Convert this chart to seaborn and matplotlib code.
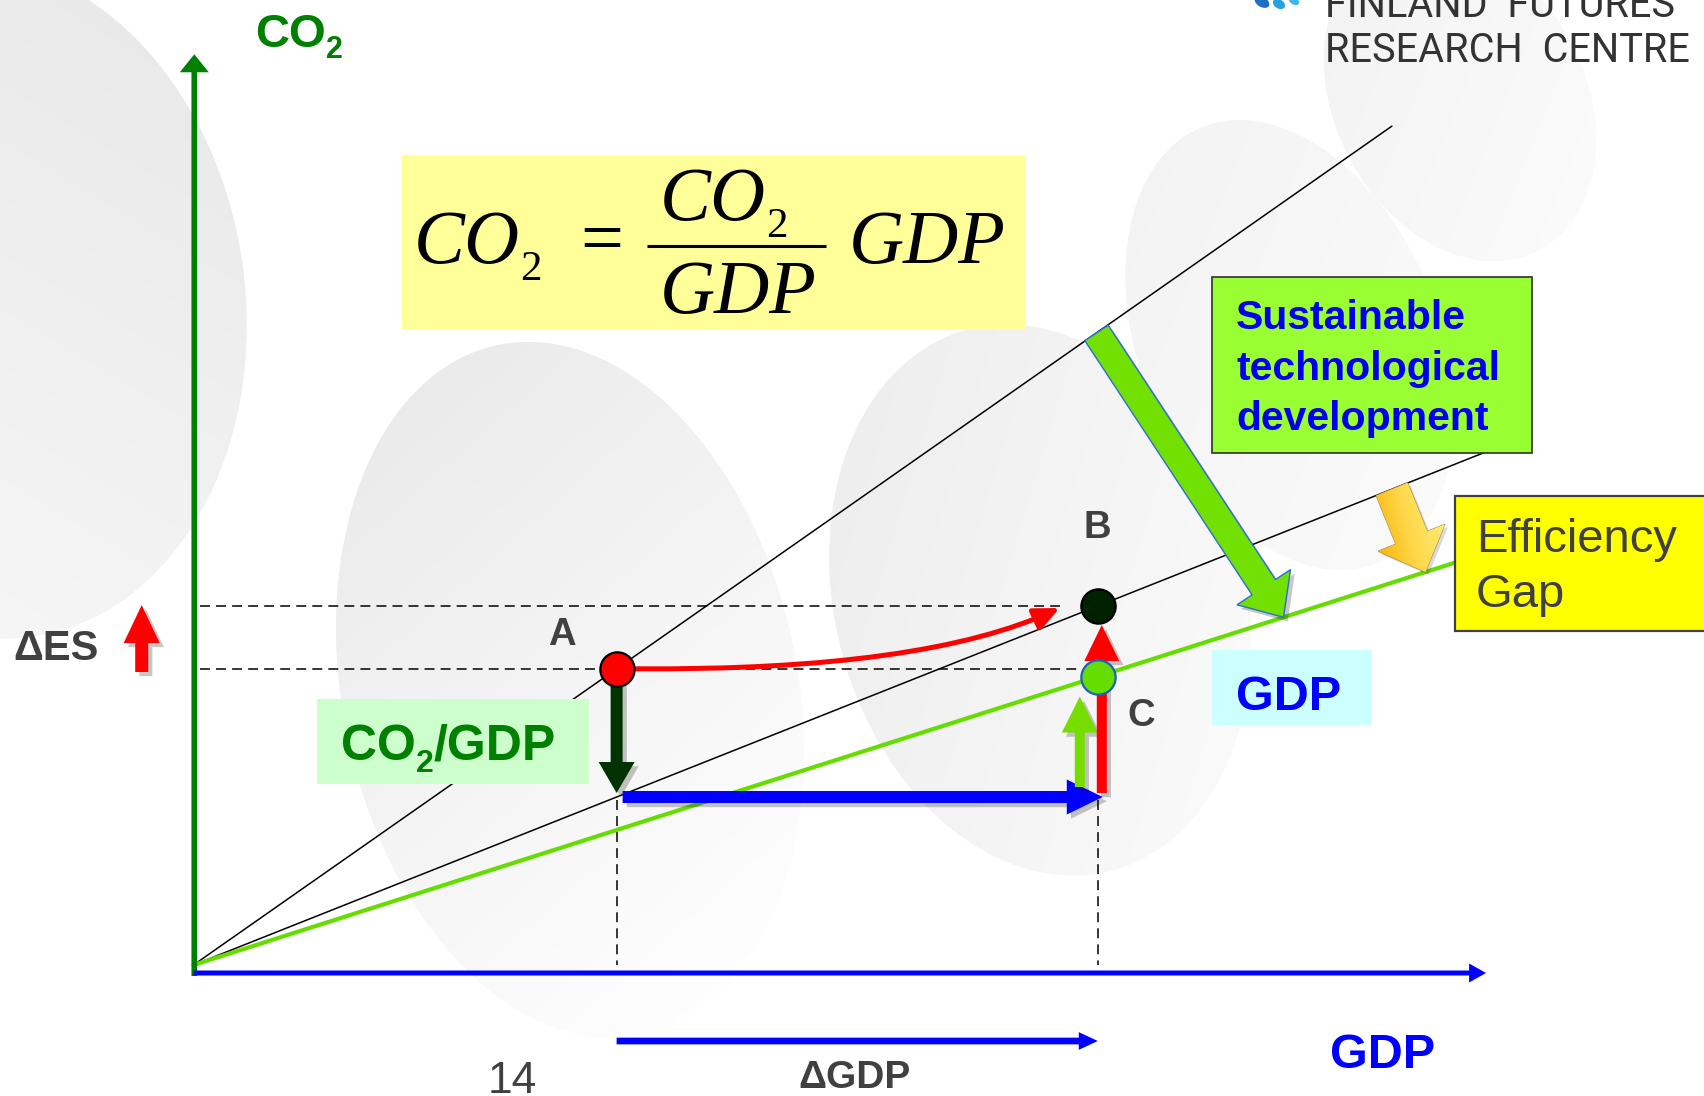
import numpy as np
import matplotlib
matplotlib.use("Agg")
import matplotlib.pyplot as plt
import seaborn as sns
from matplotlib.patches import Ellipse, Rectangle, FancyArrow, FancyArrowPatch
from matplotlib.path import Path
from matplotlib.colors import LinearSegmentedColormap
import matplotlib.patheffects as pe

# ---------------------------------------------------------------------------
# Model values: CO2 = (CO2/GDP) * GDP
# ---------------------------------------------------------------------------
point_names = ["A", "B", "C"]
point_gdp = [32.8, 70.1, 70.1]
point_co2 = [22.96, 27.83, 22.36]
point_fill = ["#ff0000", "#002200", "#66dd00"]
point_edge = ["#000000", "#000000", "#1f5fbf"]

# emission intensities (slopes of the rays from the origin)
ray_intensity = [0.70, 0.397, 0.319]
ray_end_gdp = [92.9, 100.0, 97.9]
ray_colors = ["#000000", "#000000", "#66dd00"]
ray_widths = [1.1, 1.1, 3.0]

# GDP span of the two slanted block arrows
tech_arrow_gdp = [70.0, 84.5]     # from the high ray down to the efficient ray
gap_arrow_gdp = [92.9, 95.5]      # from the middle ray down to the efficient ray

axis_top_co2 = 70.6
axis_end_gdp = 100.2

# ---------------------------------------------------------------------------
# Canvas: one axes filling the figure, equal units on both directions
# ---------------------------------------------------------------------------
W, H = 1704, 1096
S = 12.9            # pixels per unit
X0, Y0 = 193.5, 965.0


def dx(px):
    return (px - X0) / S


def dy(py):
    return (Y0 - py) / S


def L(n):
    return n / S


sns.set_style("white")
plt.rcParams["font.family"] = ["Liberation Sans", "DejaVu Sans"]

fig = plt.figure(figsize=(W / 100, H / 100), dpi=100)
ax = fig.add_axes([0, 0, 1, 1])
ax.set_axis_off()
ax.set_xlim(dx(0), dx(W))
ax.set_ylim(dy(H), dy(0))
ax.set_aspect("auto")
ax.set_autoscale_on(False)
R = fig.canvas.get_renderer()

GRAY = "#404040"
GREEN = "#008000"
BLUE = "#0000ff"


# ---------------------------------------------------------------------------
# Soft grey discs in the background
# ---------------------------------------------------------------------------
def soft_disc(cx, cy, w, h, ang, c_dark, c_light, gx, gy):
    e = Ellipse((dx(cx), dy(cy)), L(w), L(h), angle=ang, fc="none", ec="none")
    ax.add_patch(e)
    r = max(w, h) / 2
    u = np.linspace(-1, 1, 300)
    XX, YY = np.meshgrid(u, u)
    Z = (XX * gx + YY * gy) / np.hypot(gx, gy)
    cmap = LinearSegmentedColormap.from_list("disc", [c_dark, c_light])
    im = ax.imshow(Z, extent=[dx(cx - r), dx(cx + r), dy(cy + r), dy(cy - r)],
                   origin="lower", cmap=cmap, vmin=-1, vmax=1,
                   interpolation="bilinear", zorder=0, aspect="auto")
    im.set_clip_path(e)


soft_disc(-15, 300, 520, 680, 8, "#e9e9e9", "#f7f7f7", -0.6, -1.0)
soft_disc(570, 690, 455, 705, 11.8, "#eaeaea", "#ffffff", 0.8, -0.9)
soft_disc(1040, 600, 410, 560, 15, "#ededed", "#fbfbfb", 1.0, -0.3)
soft_disc(1290, 345, 300, 470, 22, "#f3f3f3", "#fbfbfb", 1.0, -0.4)
soft_disc(1460, 100, 250, 340, 28, "#f3f3f3", "#fbfbfb", 1.0, -0.4)

# ---------------------------------------------------------------------------
# Helpers
# ---------------------------------------------------------------------------
shadow = [pe.SimplePatchShadow(offset=(3, -3), shadow_rgbFace="#000000", alpha=0.22),
          pe.Normal()]


def block_arrow(x0, y0, x1, y1, shaft, head_w, head_l, fc, ec=None, lw=0.0,
                z=6, shade=True):
    a = FancyArrow(x0, y0, x1 - x0, y1 - y0, width=L(shaft), head_width=L(head_w),
                   head_length=L(head_l), length_includes_head=True,
                   fc=fc, ec=ec if ec else fc, lw=lw, zorder=z)
    if shade:
        a.set_path_effects(shadow)
    ax.add_patch(a)
    return a


def box(x0, y0, x1, y1, fc, ec="none", lw=0.0, z=4):
    ax.add_patch(Rectangle((dx(x0), dy(y1)), L(x1 - x0), L(y1 - y0),
                           fc=fc, ec=ec, lw=lw, zorder=z))


def chain(x_px, base_px, pieces, z=9, **kw):
    """Write text pieces one after another: (string, size, baseline shift px, extra kw)."""
    x = x_px
    for s, size, shift, extra in pieces:
        opts = dict(kw)
        opts.update(extra)
        t = ax.text(dx(x), dy(base_px + shift), s, fontsize=size, ha="left",
                    va="baseline", zorder=z, **opts)
        bb = t.get_window_extent(renderer=R)
        x = bb.x1
    return x


def centred(cx_px, base_px, s, size, z=9, **kw):
    ax.text(dx(cx_px), dy(base_px), s, fontsize=size, ha="center",
            va="baseline", zorder=z, **kw)


# ---------------------------------------------------------------------------
# Axes arrows
# ---------------------------------------------------------------------------
block_arrow(L(0.8), dy(976), L(0.8), axis_top_co2, 5.7, 29, 18, GREEN, z=5, shade=False)
block_arrow(0.0, dy(973), axis_end_gdp, dy(973), 5.0, 19, 17, BLUE, z=5, shade=False)

# ---------------------------------------------------------------------------
# Rays from the origin
# ---------------------------------------------------------------------------
for k, g, c, w in zip(ray_intensity, ray_end_gdp, ray_colors, ray_widths):
    sns.lineplot(x=[0.0, g], y=[0.0, k * g], ax=ax, color=c, lw=w, zorder=3,
                 legend=False, sort=False)

gA, gB = point_gdp[0], point_gdp[1]
cA, cB, cC = point_co2
y_shift = ray_intensity[1] * gA      # CO2 of A's GDP on the middle ray

# dashed guide lines
dash = dict(color="black", lw=1.1, dashes=(6.5, 4), zorder=3)
ax.plot([dx(200), gB - L(38)], [cB, cB], **dash)
ax.plot([dx(200), gB - L(18)], [cA, cA], **dash)
ax.plot([gA, gA], [y_shift - L(3), 0.0], **dash)
ax.plot([gB, gB], [y_shift - L(3), 0.0], **dash)

# ---------------------------------------------------------------------------
# Boxes
# ---------------------------------------------------------------------------
box(402, 155, 1025, 330, "#ffff99", z=2)
box(317, 699, 589, 784, "#ccffcc", z=4)
box(1212, 650, 1372, 725, "#ccffff", z=4)
box(1212, 277, 1532, 453, "#99ff33", ec="#303030", lw=1.2, z=4)
box(1455, 496, 1710, 631, "#ffff00", ec="#404040", lw=1.6, z=4)

# ---------------------------------------------------------------------------
# Movement arrows
# ---------------------------------------------------------------------------
# CO2/GDP falls: A straight down to the middle ray
block_arrow(gA, cA, gA, y_shift + L(4), 12, 36, 31, "#003300", z=6)
# GDP grows
block_arrow(gA + L(6), y_shift, gB + L(5), y_shift, 12, 35, 36, BLUE, z=6)
# vertical rises at the new GDP
block_arrow(gB - L(18), y_shift + L(10), gB - L(18), cC - L(20), 10, 36, 36,
            "#77dd00", z=6)
block_arrow(gB + L(4), y_shift + L(4), gB + L(4), cB - L(19), 10, 35, 36,
            "#ff0000", z=6)

# red curved path A -> B
p0 = (gA + L(20), cA)
p2 = (gB - L(38), cB - L(2))
p1 = (gA + L(20) + 0.68 * (p2[0] - p0[0]), cA - L(2))
curve = FancyArrowPatch(path=Path([p0, p1, p2], [Path.MOVETO, Path.CURVE3, Path.CURVE3]),
                        arrowstyle="-|>,head_length=1.0,head_width=0.45",
                        mutation_scale=15, color="#ff0000", lw=3.6, zorder=6,
                        shrinkA=0, shrinkB=0)
ax.add_patch(curve)

# technological development arrow: high ray to efficient ray
t0, t1 = tech_arrow_gdp
block_arrow(t0, ray_intensity[0] * t0, t1, ray_intensity[2] * t1, 28, 64, 36,
            "#72e000", ec="#2a6ed8", lw=1.0, z=5)

# efficiency gap arrow with a warm gradient
q0, q1 = gap_arrow_gdp
gap = block_arrow(q0, ray_intensity[1] * q0, q1, ray_intensity[2] * q1, 34, 72, 37,
                  "none", ec="#a08850", lw=0.8, z=5, shade=False)
shadow_gap = FancyArrow(q0 + L(3), ray_intensity[1] * q0 - L(3), q1 - q0,
                        ray_intensity[2] * q1 - ray_intensity[1] * q0,
                        width=L(34), head_width=L(72), head_length=L(37),
                        length_includes_head=True, fc="#000000", ec="none",
                        alpha=0.15, zorder=4.9)
ax.add_patch(shadow_gap)
u = np.linspace(-1, 1, 100)
GX, GY = np.meshgrid(u, u)
gcmap = LinearSegmentedColormap.from_list("gap", ["#f5b000", "#ffd84a", "#fff07a"])
gim = ax.imshow(GX * 0.9 + GY * 0.3, extent=[dx(1370), dx(1450), dy(580), dy(480)],
                origin="lower", cmap=gcmap, vmin=-1, vmax=1, zorder=5.1,
                interpolation="bilinear", aspect="auto")
gim.set_clip_path(gap)

# ΔES marker arrow
block_arrow(dx(141.7), dy(672), dx(141.7), dy(605), 13, 36, 38, "#ff0000", z=6)

# ΔGDP arrow under the axis
block_arrow(gA, dy(1041), gB, dy(1041), 6.7, 17.7, 19, BLUE, z=6, shade=False)

# ---------------------------------------------------------------------------
# Points A, B, C
# ---------------------------------------------------------------------------
for name, g, c, fc, ec in zip(point_names, point_gdp, point_co2, point_fill, point_edge):
    sns.scatterplot(x=[g], y=[c], ax=ax, color=fc, s=610, edgecolor=ec,
                    linewidth=1.6, zorder=8, legend=False)

# ---------------------------------------------------------------------------
# Text
# ---------------------------------------------------------------------------
bold = dict(fontweight="bold")

# axis titles
chain(255, 47, [("CO", 34, 0, {}), ("2", 22, 11, {})], color=GREEN, **bold)
chain(1330, 1068, [("GDP", 35, 0, {})], color=BLUE, **bold)

# point labels
centred(562, 645, "A", 27.5, color=GRAY, **bold)
centred(1097, 538, "B", 27.5, color=GRAY, **bold)
centred(1141, 726, "C", 27.5, color=GRAY, **bold)

chain(13, 660, [("ΔES", 30, 0, {})], color=GRAY, **bold)
chain(798, 1088, [("ΔGDP", 28, 0, {})], color=GRAY, **bold)
chain(488, 1093, [("14", 32, 0, {})], color=GRAY)

# box labels
chain(341, 759.5, [("CO", 36, 0, {}), ("2", 23, 12, {}), ("/GDP", 36, 0, {})],
      color=GREEN, **bold)
chain(1236, 710, [("GDP", 35, 0, {})], color=BLUE, **bold)
for line, base in zip(["Sustainable", "technological", "development"], [328.6, 380, 430]):
    chain(1236, base, [(line, 29.5, 0, {})], color="#0000ee", **bold)
chain(1476, 552, [("Efficiency", 34, 0, {})], color=GRAY)
chain(1476, 607, [("Gap", 34, 0, {})], color=GRAY)

# formula CO2 = (CO2/GDP) GDP
serif_it = dict(family=["Liberation Serif", "DejaVu Serif"], style="italic", color="black")
serif_rm = dict(style="normal")
chain(414, 263, [("CO", 55, 0, {}), ("2", 31, 17, serif_rm)], **serif_it)
centred(602, 263, "=", 55, family=["Liberation Serif"], color="black")
ax.plot([dx(647), dx(826)], [dy(246), dy(246)], color="black", lw=2.2, zorder=9,
        solid_capstyle="butt")
chain(660, 220, [("CO", 55, 0, {}), ("2", 31, 17, serif_rm)], **serif_it)
centred(738, 313, "GDP", 55, **serif_it)
centred(927, 263, "GDP", 55, **serif_it)

# centre logo
logo = dict(family=["Roboto", "DejaVu Sans"], color="#333333")
chain(1325, 16.5, [("FINLAND  FUTURES", 28.5, 0, {})], **logo)
chain(1325, 62, [("RESEARCH  CENTRE", 28.5, 0, {})], **logo)
for (lx, ly, lw_, lh, lc) in [(1262, 2, 16, 10, "#1c6fc4"), (1279, 4, 13, 9, "#2a9fe0"),
                              (1294, 1, 11, 7, "#3fb6ea")]:
    ax.add_patch(Ellipse((dx(lx), dy(ly)), L(lw_), L(lh), angle=-30, fc=lc, ec="none",
                         zorder=9))

fig.savefig("out.png", dpi=100, facecolor="white")
